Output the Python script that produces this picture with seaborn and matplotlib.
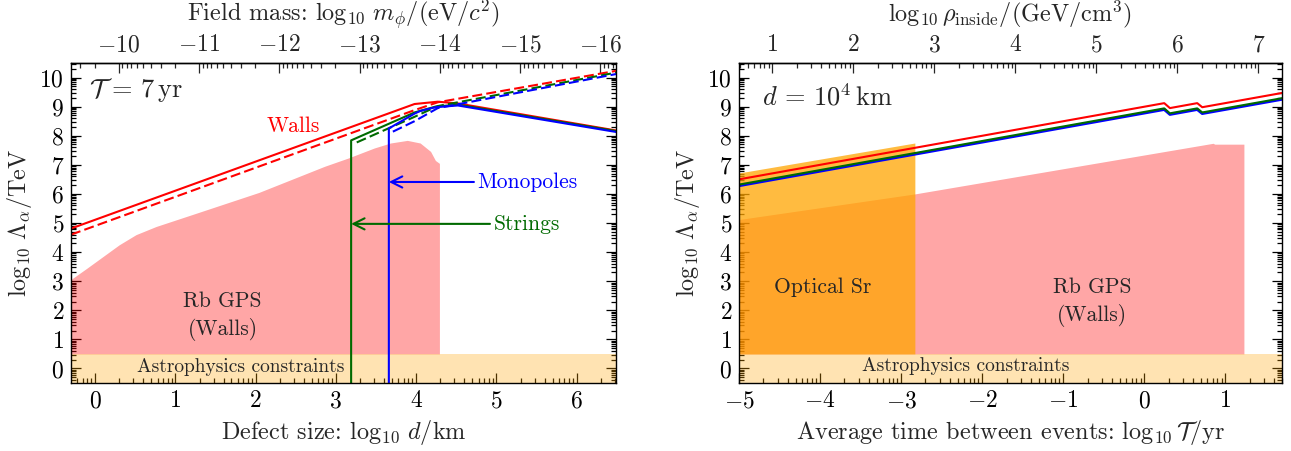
import numpy as np
import matplotlib
matplotlib.use("Agg")
import matplotlib.pyplot as plt
import seaborn as sns

sns.set_theme(style="ticks")
plt.rcParams.update({
    "font.family": "serif",
    "font.serif": ["cmr10"],
    "mathtext.fontset": "cm",
    "axes.formatter.use_mathtext": True,
    "axes.unicode_minus": True,
    "axes.linewidth": 1.0,
    "axes.edgecolor": "black",
})

# ---------------- left panel data (x = log10 d/km) ----------------
gps_d = [-0.3, -0.1, 0.1, 0.3, 0.51, 0.76, 1.21, 2.04, 2.86, 3.15, 3.48, 3.68, 3.89, 4.05, 4.18, 4.24, 4.29]
gps_top = [3.06, 3.45, 3.85, 4.25, 4.6, 4.88, 5.29, 6.05, 6.95, 7.23, 7.58, 7.75, 7.84, 7.75, 7.46, 7.15, 7.05]

walls_d = [-0.3, 3.98, 4.27, 4.52, 6.49]
walls_solid = [4.81, 9.09, 9.17, 9.11, 8.18]
walls_dash_d = [-0.3, 3.98, 4.27, 6.49]
walls_dash = [4.6, 8.88, 9.15, 10.23]

strings_d = [3.19, 3.19, 3.98, 4.24, 4.52, 6.49]
strings_solid = [-0.5, 7.84, 8.80, 9.0, 9.07, 8.16]
strings_dash_d = [3.26, 3.98, 4.27, 6.49]
strings_dash = [7.77, 8.65, 9.02, 10.17]

mono_d = [3.66, 3.66, 3.98, 4.05, 4.24, 4.52, 6.49]
mono_solid = [-0.5, 8.25, 8.76, 8.85, 8.98, 9.04, 8.13]
mono_dash_d = [3.71, 3.98, 4.27, 6.49]
mono_dash = [8.14, 8.5, 8.95, 10.12]

# ---------------- right panel data (x = log10 T/yr) ----------------
sr_T = [-5.0, -2.83]
sr_top = [6.72, 7.75]
gps2_T = [-5.0, -2.83, 0.85, 0.87, 1.23]
gps2_top = [5.12, 6.0, 7.74, 7.71, 7.71]

rho_T = [-5.0, 0.247, 0.317, 0.654, 0.716, 1.7]
rho_walls = [6.5, 9.12, 8.95, 9.12, 8.98, 9.47]
rho_strings = [6.32, 8.94, 8.77, 8.94, 8.80, 9.29]
rho_mono = [6.28, 8.90, 8.73, 8.90, 8.76, 9.25]

astro_band = (-0.5, 0.5)
mass_offset = -9.705   # log10 m_phi = offset - log10 d
rho_offset = 5.59      # log10 rho_inside = log10 T + offset

RED, GREEN, BLUE = "red", "#006a00", "blue"
PINK = (1.0, 0.0, 0.0, 0.35)
ORANGE = (1.0, 0.647, 0.0, 0.75)
PEACH = (1.0, 0.647, 0.0, 0.3)
DASH = (0, (4.8, 2.0))

TICK_FS = 17
LABEL_FS = 17.5


def log_minors(lo, hi):
    return [n + np.log10(k) for n in range(lo, hi) for k in range(2, 10)]


def style_axes(ax, xlim):
    ax.set_yticks(range(0, 11))
    ax.set_yticks(log_minors(-1, 11), minor=True)
    ax.set_ylim(-0.5, 10.5)
    ax.set_xlim(*xlim)
    ax.tick_params(which="both", direction="in", top=False, right=True,
                   labelsize=TICK_FS, colors="black", width=0.9, pad=5)
    ax.tick_params(which="major", length=7)
    ax.tick_params(which="minor", length=3.5)
    ax.set_ylabel(r"$\log_{10}\,\Lambda_\alpha/\mathrm{TeV}$", fontsize=LABEL_FS, labelpad=4)
    for s in ax.spines.values():
        s.set_visible(True)
        s.set_color("black")


def style_top(sec, label):
    sec.tick_params(which="both", direction="in", labelsize=TICK_FS, width=0.9, pad=5)
    sec.tick_params(which="major", length=7)
    sec.tick_params(which="minor", length=3.5)
    sec.set_xlabel(label, fontsize=LABEL_FS, labelpad=9)


fig = plt.figure(figsize=(12.91, 4.51), dpi=100)
ax1 = fig.add_axes([71 / 1291, 68 / 451, 545 / 1291, 320 / 451])
ax2 = fig.add_axes([739 / 1291, 68 / 451, 543 / 1291, 320 / 451])

# ================= left panel =================
ax1.fill_between(gps_d, 0.5, gps_top, color=PINK, lw=0)
ax1.axhspan(*astro_band, color=PEACH, lw=0)

sns.lineplot(x=walls_d, y=walls_solid, ax=ax1, color=RED, lw=1.5, sort=False, estimator=None)
sns.lineplot(x=walls_dash_d, y=walls_dash, ax=ax1, color=RED, lw=1.5, linestyle=DASH, sort=False, estimator=None)
sns.lineplot(x=strings_d, y=strings_solid, ax=ax1, color=GREEN, lw=1.5, sort=False, estimator=None)
sns.lineplot(x=strings_dash_d, y=strings_dash, ax=ax1, color=GREEN, lw=1.5, linestyle=DASH, sort=False, estimator=None)
sns.lineplot(x=mono_d, y=mono_solid, ax=ax1, color=BLUE, lw=1.5, sort=False, estimator=None)
sns.lineplot(x=mono_dash_d, y=mono_dash, ax=ax1, color=BLUE, lw=1.5, linestyle=DASH, sort=False, estimator=None)

ax1.set_xticks(range(0, 7))
ax1.set_xticks(log_minors(-1, 7), minor=True)
style_axes(ax1, (-0.3, 6.49))
ax1.set_xlabel(r"Defect size: $\log_{10}\, d/\mathrm{km}$", fontsize=LABEL_FS, labelpad=4)

sec1 = ax1.secondary_xaxis("top", functions=(lambda d: mass_offset - d, lambda m: mass_offset - m))
sec1.set_xticks(range(-16, -9))
sec1.set_xticks(log_minors(-17, -9), minor=True)
style_top(sec1, r"Field mass: $\log_{10}\, m_\phi/(\mathrm{eV}/c^2)$")

ax1.text(-0.08, 9.57, r"$\mathcal{T}\,=\,7\,\mathrm{yr}$", fontsize=19, va="center", ha="left")
ax1.text(2.47, 8.31, "Walls", color=RED, fontsize=15.5, ha="center", va="center")
ax1.text(1.59, 1.8, "Rb GPS\n(Walls)", fontsize=15.5, ha="center", va="center", linespacing=1.4)
ax1.text(1.82, 0.05, "Astrophysics constraints", fontsize=14, ha="center", va="center")
ax1.annotate("", xy=(3.66, 6.41), xytext=(4.72, 6.41),
             arrowprops=dict(arrowstyle="->", color=BLUE, lw=1.5, mutation_scale=20, shrinkA=0, shrinkB=0))
ax1.text(4.76, 6.41, "Monopoles", color=BLUE, fontsize=15.5, ha="left", va="center")
ax1.annotate("", xy=(3.19, 4.97), xytext=(4.92, 4.97),
             arrowprops=dict(arrowstyle="->", color=GREEN, lw=1.5, mutation_scale=20, shrinkA=0, shrinkB=0))
ax1.text(4.97, 4.97, "Strings", color=GREEN, fontsize=15.5, ha="left", va="center")

# ================= right panel =================
ax2.fill_between(gps2_T, 0.5, gps2_top, color=PINK, lw=0)
ax2.fill_between(sr_T, 0.5, sr_top, color=ORANGE, lw=0)
ax2.axhspan(*astro_band, color=PEACH, lw=0)

sns.lineplot(x=rho_T, y=rho_walls, ax=ax2, color=RED, lw=1.5, sort=False, estimator=None)
sns.lineplot(x=rho_T, y=rho_mono, ax=ax2, color=BLUE, lw=2.0, sort=False, estimator=None)
sns.lineplot(x=rho_T, y=rho_strings, ax=ax2, color=GREEN, lw=1.5, sort=False, estimator=None)

ax2.set_xticks(range(-5, 2))
ax2.set_xticks(log_minors(-5, 2), minor=True)
style_axes(ax2, (-5.0, 1.7))
ax2.set_xlabel(r"Average time between events: $\log_{10}\mathcal{T}/\mathrm{yr}$", fontsize=LABEL_FS, labelpad=4)

sec2 = ax2.secondary_xaxis("top", functions=(lambda t: t + rho_offset, lambda r: r - rho_offset))
sec2.set_xticks(range(1, 8))
sec2.set_xticks(log_minors(0, 8), minor=True)
style_top(sec2, r"$\log_{10}\rho_{\mathrm{inside}}/(\mathrm{GeV}/\mathrm{cm}^3)$")

ax2.text(-4.72, 9.34, r"$d\,=\,10^4\,\mathrm{km}$", fontsize=19, va="center", ha="left")
ax2.text(-3.97, 2.78, "Optical Sr", fontsize=15.5, ha="center", va="center")
ax2.text(-0.64, 2.27, "Rb GPS\n(Walls)", fontsize=15.5, ha="center", va="center", linespacing=1.4)
ax2.text(-2.2, 0.07, "Astrophysics constraints", fontsize=14, ha="center", va="center")

fig.savefig("out.png", dpi=100)
